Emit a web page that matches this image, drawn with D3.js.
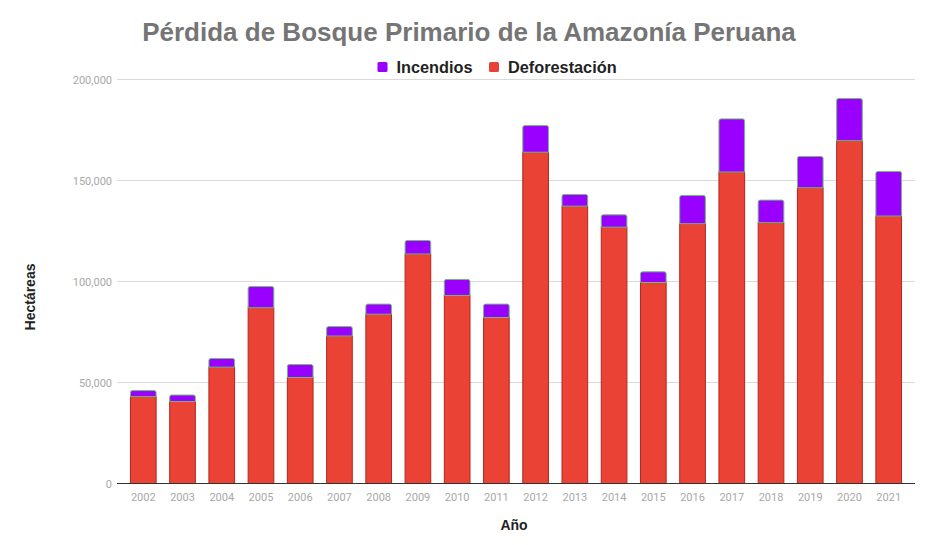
<!DOCTYPE html>
<html><head><meta charset="utf-8">
<script src="https://cdn.jsdelivr.net/npm/d3@7"></script>
<style>body{margin:0;background:#fff}svg{display:block}</style>
</head><body>
<svg id="c" width="930" height="545"></svg>
<script>
const years = ["2002","2003","2004","2005","2006","2007","2008","2009","2010","2011","2012","2013","2014","2015","2016","2017","2018","2019","2020","2021"];
const deforestacion = [43000,40600,57600,87000,52500,73000,83800,113600,93100,82200,164000,137300,126900,99500,128600,154200,129100,146400,169700,132400];
const incendios = [3000,3200,4300,10500,6400,4700,5000,6700,7900,6600,13200,5800,6100,5300,14000,26300,11200,15500,20900,22100];
const yTicks = [0,50000,100000,150000,200000];
const seriesNames = ["Incendios","Deforestación"];
const seriesColors = ["#9900ff","#ea4335"];

const svg = d3.select("#c");
const W = 930, H = 545;
const m = {left:117, right:15, top:79.5, bottom:61.5};
const x = d3.scaleBand().domain(years).range([m.left, W-m.right]).paddingInner(0.32).paddingOuter(0.33);
const y = d3.scaleLinear().domain([0,200000]).range([H-m.bottom, m.top]);

// gridlines
svg.append("g").selectAll("line").data(yTicks.filter(d=>d>0)).join("line")
  .attr("x1", m.left).attr("x2", W-m.right)
  .attr("y1", d=>y(d)).attr("y2", d=>y(d))
  .attr("stroke","#dadada").attr("stroke-width",1);

// y labels
svg.append("g").selectAll("text").data(yTicks).join("text")
  .attr("x", m.left-5).attr("y", d=>y(d)+4)
  .attr("text-anchor","end")
  .attr("font-family","Roboto, 'Liberation Sans', Arial, sans-serif")
  .attr("font-size",11).attr("fill","#a8a8a8")
  .text(d=>d3.format(",")(d));

// bars
const g = svg.append("g");
const bw = x.bandwidth();
g.selectAll("rect.def").data(years).join("rect").attr("class","def")
  .attr("x", d=>x(d)+0.5).attr("width", bw-1)
  .attr("y", (d,i)=>y(deforestacion[i]))
  .attr("height", (d,i)=>y(0)-y(deforestacion[i]))
  .attr("fill", seriesColors[1]).attr("stroke","#b3261e").attr("stroke-width",1);

g.selectAll("path.inc").data(years).join("path").attr("class","inc")
  .attr("d", (d,i)=>{
    const x0 = x(d)+0.5, x1 = x(d)+bw-0.5;
    const yb = y(deforestacion[i]), yt = y(deforestacion[i]+incendios[i]);
    const r = Math.min(2, (yb-yt)/2);
    return `M${x0},${yb}L${x0},${yt+r}Q${x0},${yt} ${x0+r},${yt}L${x1-r},${yt}Q${x1},${yt} ${x1},${yt+r}L${x1},${yb}Z`;
  })
  .attr("fill", seriesColors[0]).attr("stroke","#6fbf73").attr("stroke-width",1);

// baseline
svg.append("line").attr("x1", m.left).attr("x2", W-m.right)
  .attr("y1", y(0)).attr("y2", y(0)).attr("stroke","#333").attr("stroke-width",1);

// x labels
svg.append("g").selectAll("text").data(years).join("text")
  .attr("x", d=>x(d)+bw/2).attr("y", y(0)+17)
  .attr("text-anchor","middle")
  .attr("font-family","Roboto, 'Liberation Sans', Arial, sans-serif")
  .attr("font-size",11).attr("fill","#a8a8a8")
  .text(d=>d);

// title
svg.append("text").attr("x", 469).attr("y", 41).attr("text-anchor","middle")
  .attr("font-family","'Liberation Sans', Arial, sans-serif").attr("font-weight","bold")
  .attr("font-size",26).attr("fill","#757575")
  .text("Pérdida de Bosque Primario de la Amazonía Peruana");

// legend
const lg = svg.append("g");
const legX = [377.5, 489];
seriesNames.forEach((n,i)=>{
  lg.append("rect").attr("x", legX[i]).attr("y", 62).attr("width",10).attr("height",10).attr("rx",1.5)
    .attr("fill", seriesColors[i]);
  lg.append("text").attr("x", legX[i]+19).attr("y", 72.7)
    .attr("font-family","'Liberation Sans', Arial, sans-serif").attr("font-weight","bold")
    .attr("font-size",16.3).attr("fill","#222")
    .text(n);
});

// axis titles
svg.append("text").attr("x", 514).attr("y", 530).attr("text-anchor","middle")
  .attr("font-family","'Liberation Sans', Arial, sans-serif").attr("font-weight","bold")
  .attr("font-size",14).attr("fill","#222").text("Año");
svg.append("text").attr("transform","translate(35,297) rotate(-90)").attr("text-anchor","middle")
  .attr("font-family","'Liberation Sans', Arial, sans-serif").attr("font-weight","bold")
  .attr("font-size",14).attr("fill","#222").text("Hectáreas");
</script>
</body></html>
